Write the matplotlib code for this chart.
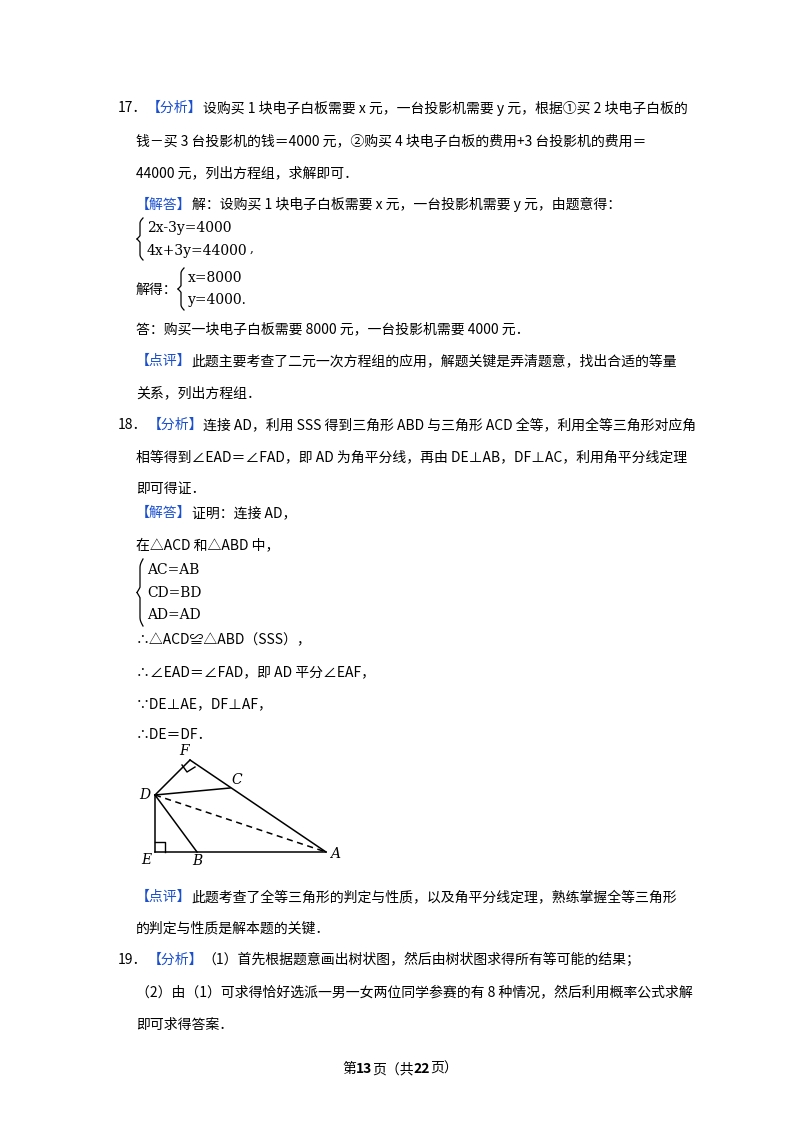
import matplotlib
matplotlib.use("Agg")
import matplotlib.pyplot as plt
import numpy as np

plt.rcParams['font.family'] = ['Noto Sans CJK SC', 'DejaVu Sans']
BLUE = '#1a4fd0'
FS = 10.0

# geometry data (page pixel coords)
pt_names = ['D', 'F', 'C', 'A', 'E', 'B']
pt_x = [155, 190, 230, 326, 155, 197]
pt_y = [795, 760, 788, 852, 852, 852]

lines = [
    (118, 108, [("17．", 'k'), ("【分析】", BLUE), ("设购买 1 块电子白板需要 x 元，一台投影机需要 y 元，根据①买 2 块电子白板的", 'k')]),
    (136, 141, [("钱－买 3 台投影机的钱＝4000 元，②购买 4 块电子白板的费用+3 台投影机的费用＝", 'k')]),
    (136, 173, [("44000 元，列出方程组，求解即可．", 'k')]),
    (136, 205, [("【解答】", BLUE), ("解：设购买 1 块电子白板需要 x 元，一台投影机需要 y 元，由题意得：", 'k')]),
    (136, 290, [("解得：", 'k')]),
    (136, 329, [("答：购买一块电子白板需要 8000 元，一台投影机需要 4000 元．", 'k')]),
    (136, 361, [("【点评】", BLUE), ("此题主要考查了二元一次方程组的应用，解题关键是弄清题意，找出合适的等量", 'k')]),
    (136, 393, [("关系，列出方程组．", 'k')]),
    (118, 425, [("18．", 'k'), ("【分析】", BLUE), ("连接 AD，利用 SSS 得到三角形 ABD 与三角形 ACD 全等，利用全等三角形对应角", 'k')]),
    (136, 457, [("相等得到∠EAD＝∠FAD，即 AD 为角平分线，再由 DE⊥AB，DF⊥AC，利用角平分线定理", 'k')]),
    (136, 489, [("即可得证．", 'k')]),
    (136, 513, [("【解答】", BLUE), ("证明：连接 AD，", 'k')]),
    (136, 545, [("在△ACD 和△ABD 中，", 'k')]),
    (136, 640, [("∴△ACD≌△ABD（SSS），", 'k')]),
    (136, 672, [("∴∠EAD＝∠FAD，即 AD 平分∠EAF，", 'k')]),
    (136, 704, [("∵DE⊥AE，DF⊥AF，", 'k')]),
    (136, 735, [("∴DE＝DF．", 'k')]),
    (136, 897, [("【点评】", BLUE), ("此题考查了全等三角形的判定与性质，以及角平分线定理，熟练掌握全等三角形", 'k')]),
    (136, 929, [("的判定与性质是解本题的关键．", 'k')]),
    (118, 960, [("19．", 'k'), ("【分析】", BLUE), ("（1）首先根据题意画出树状图，然后由树状图求得所有等可能的结果；", 'k')]),
    (136, 993, [("（2）由（1）可求得恰好选派一男一女两位同学参赛的有 8 种情况，然后利用概率公式求解", 'k')]),
    (136, 1025, [("即可求得答案．", 'k')]),
]

fig = plt.figure(figsize=(8, 11.32), dpi=100)
ax = fig.add_axes([0, 0, 1, 1])
ax.set_xlim(0, 800)
ax.set_ylim(1132, 0)
ax.axis('off')
fig.canvas.draw()
r = fig.canvas.get_renderer()

def seg_line(x, y, segs, fs=FS, center=False):
    objs = []
    cx = x
    for s, c, *w in segs:
        t = ax.text(cx, y, s, color=c, fontsize=fs, va='center', ha='left',
                    fontweight=(w[0] if w else 'normal'))
        bb = t.get_window_extent(renderer=r)
        cx += bb.width
        objs.append(t)
    if center:
        total = cx - x
        for t in objs:
            t.set_x(t.get_position()[0] - total / 2)

for x, y, segs in lines:
    seg_line(x, y, segs)

def brace(x, y0, y1):
    m = (y0 + y1) / 2
    t = np.linspace(0, 1, 20)
    def half(ya, yb):
        ys = ya + (yb - ya) * t
        xs = x - 3 + 3 * (1 - np.sin(np.pi / 2 * np.clip(t * 4, 0, 1)))
        xs = np.where(t > 0.85, x - 3 - 3 * (t - 0.85) / 0.15, xs)
        return xs, ys
    xa, ya = half(y0, m)
    xb, yb = half(y1, m)
    ax.plot(xa, ya, color='k', lw=0.9)
    ax.plot(xb, yb, color='k', lw=0.9)

# equations
brace(143, 218, 260)
ax.text(147, 228, "2x-3y=4000", fontsize=10, va='center', family='DejaVu Serif')
ax.text(147, 251, "4x+3y=44000", fontsize=10, va='center', family='DejaVu Serif')
ax.text(250, 248, ",", fontsize=9, va='center', family='DejaVu Serif')
brace(184, 268, 310)
ax.text(188, 278, "x=8000", fontsize=10, va='center', family='DejaVu Serif')
ax.text(188, 300, "y=4000.", fontsize=10, va='center', family='DejaVu Serif')
brace(143, 559, 626)
for yy, s in zip([570, 593, 615], ["AC=AB", "CD=BD", "AD=AD"]):
    ax.text(147, yy, s, fontsize=10, va='center', family='DejaVu Serif')

# diagram
P = dict(zip(pt_names, zip(pt_x, pt_y)))
def seg(a, b, **kw):
    ax.plot([P[a][0], P[b][0]], [P[a][1], P[b][1]], color='k', lw=1.1, **kw)
for a, b in [('D', 'F'), ('F', 'A'), ('D', 'C'), ('D', 'E'), ('E', 'A'), ('D', 'B')]:
    seg(a, b)
seg('D', 'A', ls=(0, (4, 3)))
ax.plot([155, 165, 165], [842, 842, 852], color='k', lw=1)
ax.plot([182, 187, 195], [765, 772, 767], color='k', lw=1)
labels_off = {'D': (-10, 0), 'F': (-6, -9), 'C': (7, -8), 'A': (9, 2), 'E': (-9, 8), 'B': (0, 9)}
for n in pt_names:
    dx, dy = labels_off[n]
    ax.text(P[n][0] + dx, P[n][1] + dy, n, fontsize=10, style='italic',
            family='DejaVu Serif', ha='center', va='center')

seg_line(400, 1069, [("第", 'k'), ("13", 'k', 'bold'), ("页（共", 'k'), ("22", 'k', 'bold'), ("页）", 'k')],
         fs=10, center=True)

fig.savefig('out.png', dpi=100, facecolor='white')
